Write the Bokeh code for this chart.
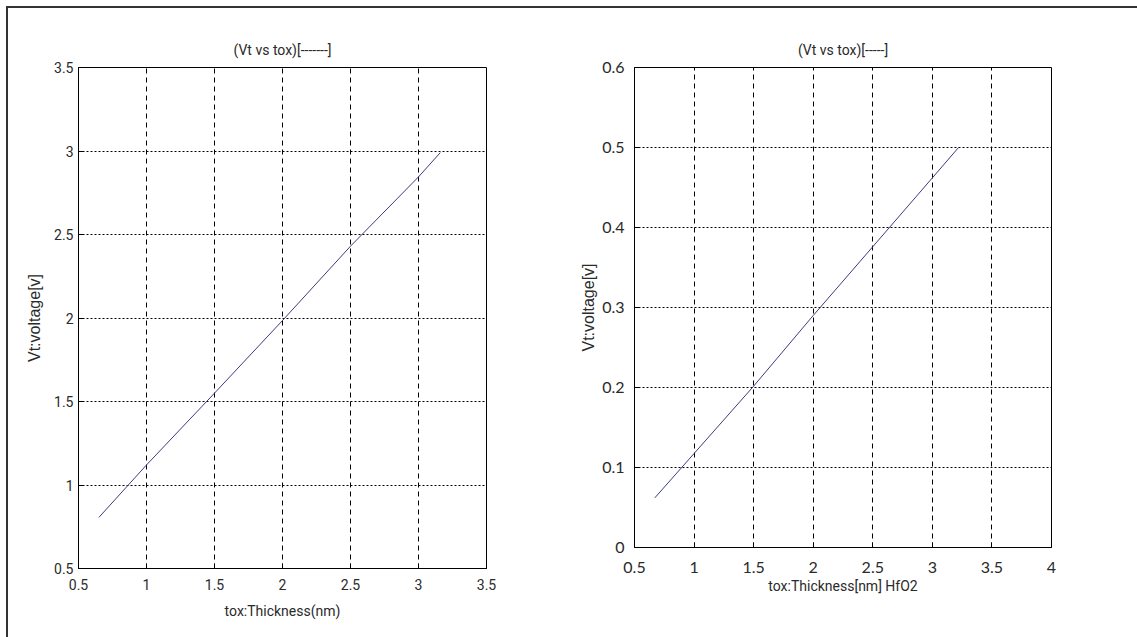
from bokeh.plotting import figure
from bokeh.layouts import row
from bokeh.models import FixedTicker
from bokeh.embed import file_html
from bokeh.resources import INLINE

# ---- data ----
tox_sio2 = [0.65, 1.0, 1.5, 2.0, 2.5, 3.0, 3.16]
vt_sio2 = [0.806, 1.12, 1.55, 1.985, 2.43, 2.845, 2.99]

tox_hfo2 = [0.67, 1.0, 1.5, 2.0, 2.5, 3.0, 3.22]
vt_hfo2 = [0.062, 0.1175, 0.2017, 0.290, 0.376, 0.462, 0.50]

left_xticks = [0.5, 1.0, 1.5, 2.0, 2.5, 3.0, 3.5]
left_xlabels = ["0.5", "1", "1.5", "2", "2.5", "3", "3.5"]
left_yticks = [0.5, 1.0, 1.5, 2.0, 2.5, 3.0, 3.5]
left_ylabels = ["0.5", "1", "1.5", "2", "2.5", "3", "3.5"]

right_xticks = [0.5, 1.0, 1.5, 2.0, 2.5, 3.0, 3.5, 4.0]
right_xlabels = ["0.5", "1", "1.5", "2", "2.5", "3", "3.5", "4"]
right_yticks = [0.0, 0.1, 0.2, 0.3, 0.4, 0.5, 0.6]
right_ylabels = ["0", "0.1", "0.2", "0.3", "0.4", "0.5", "0.6"]

NARROW = "Roboto"
SANS = "Liberation Sans"
HUMAN = "Lato"
TXT = "#2a2a2a"
LINE = "#3c3c80"


def style(p, xt, xl, yt, yl, tick_font, tick_size):
    p.outline_line_color = "black"
    p.outline_line_width = 1
    p.background_fill_color = "white"
    p.border_fill_color = "white"
    p.xaxis.ticker = FixedTicker(ticks=xt)
    p.yaxis.ticker = FixedTicker(ticks=yt)
    p.xaxis.major_label_overrides = {t: l for t, l in zip(xt, xl)}
    p.yaxis.major_label_overrides = {t: l for t, l in zip(yt, yl)}
    for ax in (p.xaxis, p.yaxis):
        ax.axis_line_color = "black"
        ax.major_tick_in = 5
        ax.major_tick_out = 0
        ax.minor_tick_line_color = None
        ax.major_tick_line_color = "black"
        ax.major_label_text_font = tick_font
        ax.major_label_text_font_size = tick_size
        ax.major_label_text_color = TXT
        ax.axis_label_text_font_style = "normal"
        ax.axis_label_text_color = TXT
    p.xgrid.ticker = FixedTicker(ticks=xt)
    p.ygrid.ticker = FixedTicker(ticks=yt)
    p.xgrid.grid_line_color = "black"
    p.xgrid.grid_line_dash = "5 4"
    p.xgrid.grid_line_alpha = 1.0
    p.ygrid.grid_line_color = "black"
    p.ygrid.grid_line_dash = "2 2"
    p.ygrid.grid_line_alpha = 1.0
    p.title.align = "center"
    p.title.text_font = NARROW
    p.title.text_font_size = "14px"
    p.title.text_font_style = "normal"
    p.title.text_color = TXT
    p.title.standoff = 20


# ---- left plot ----
p1 = figure(frame_width=408, frame_height=501,
            min_border_left=70, min_border_right=82,
            min_border_top=59, min_border_bottom=69,
            x_range=(0.5, 3.5), y_range=(0.5, 3.5),
            title="(Vt vs tox)[-------]",
            output_backend="svg", toolbar_location=None)
style(p1, left_xticks, left_xlabels, left_yticks, left_ylabels, NARROW, "14px")
p1.line(tox_sio2, vt_sio2, line_color=LINE, line_width=1)
p1.xaxis.axis_label = "tox:Thickness(nm)"
p1.xaxis.axis_label_text_font = NARROW
p1.xaxis.axis_label_text_font_size = "14px"
p1.xaxis.major_label_standoff = 10
p1.xaxis.axis_label_standoff = 10
p1.yaxis.axis_label = "Vt:voltage[v]"
p1.yaxis.axis_label_text_font = SANS
p1.yaxis.axis_label_text_font_size = "16px"
p1.yaxis.major_label_standoff = 5
p1.yaxis.axis_label_standoff = 8

# ---- right plot ----
p2 = figure(frame_width=417, frame_height=480,
            min_border_left=66, min_border_right=86,
            min_border_top=58, min_border_bottom=91,
            x_range=(0.5, 4.0), y_range=(0.0, 0.6),
            title="(Vt vs tox)[-----]",
            output_backend="svg", toolbar_location=None)
style(p2, right_xticks, right_xlabels, right_yticks, right_ylabels, HUMAN, "16px")
p2.line(tox_hfo2, vt_hfo2, line_color=LINE, line_width=1)
p2.xaxis.axis_label = "tox:Thickness[nm] HfO2"
p2.xaxis.axis_label_text_font = NARROW
p2.xaxis.axis_label_text_font_size = "14px"
p2.xaxis.major_label_standoff = 14
p2.xaxis.axis_label_standoff = 2
p2.yaxis.axis_label = "Vt:voltage[v]"
p2.yaxis.axis_label_text_font = SANS
p2.yaxis.axis_label_text_font_size = "16px"
p2.yaxis.major_label_standoff = 10
p2.yaxis.axis_label_standoff = 2

layout = row(p1, p2, margin=(6, 0, 0, 6),
             styles={"border-top": "2px solid #333", "border-left": "2px solid #333"})

open("out.html", "w").write(file_html(layout, INLINE))
